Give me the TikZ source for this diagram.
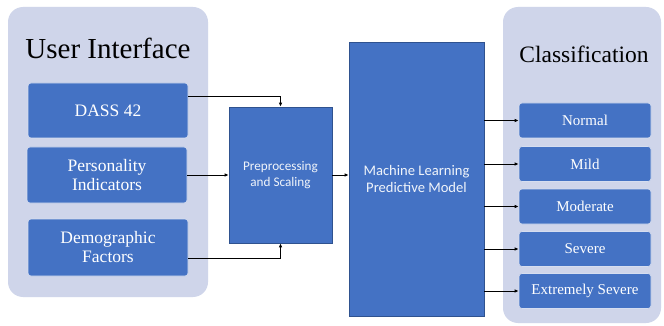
\documentclass[tikz,border=0pt]{standalone}
\usepackage{fontspec}
\setmainfont{Liberation Serif}
\newfontfamily\calib{Carlito}
\usetikzlibrary{arrows.meta}
\definecolor{panelfill}{HTML}{CFD5EA}
\definecolor{boxblue}{HTML}{4472C4}
\definecolor{boxedge}{HTML}{2F528F}
\definecolor{boxrim}{HTML}{D6DEF0}

\tikzset{
  panel/.style={fill=panelfill, rounded corners=15pt, inner sep=0pt},
  paneltitle/.style={anchor=base, inner sep=0pt, text=black},
  uibox/.style={draw=boxrim, line width=0.6pt, fill=boxblue, rounded corners=3pt,
    text=white, align=center, inner sep=0pt, minimum width=160pt,
    font=\fontsize{17.5}{19}\selectfont},
  stage/.style={draw=boxedge, line width=0.6pt, fill=boxblue, text=white,
    align=center, inner sep=0pt},
  classbox/.style={draw=boxrim, line width=0.6pt, fill=boxblue, rounded corners=3pt,
    text=white, align=center, inner sep=0pt, minimum width=132pt, minimum height=35pt,
    font=\fontsize{15}{17}\selectfont},
  conn/.style={-{Latex[length=4pt,width=3.5pt]}, line width=0.8pt, black}
}

\begin{document}
\begin{tikzpicture}[x=1pt,y=-1pt]
\useasboundingbox (0,0) rectangle (664,326);
\fill[white] (0,0) rectangle (664,326);

% background panels
\node[panel, minimum width=200pt, minimum height=290pt] (left) at (108,152) {};
\node[panel, minimum width=158pt, minimum height=316pt] (right) at (582,165) {};

\node[paneltitle, font=\fontsize{29}{32}\selectfont] (uititle) at (108,59) {User Interface};
\node[paneltitle, font=\fontsize{23.5}{26}\selectfont] (cltitle) at (584,63) {Classification};

% inputs
\node[uibox, minimum height=55pt] (dass) at (108,110.5) {DASS 42};
\node[uibox, minimum height=56pt] (pers) at (107,175) {Personality\\Indicators};
\node[uibox, minimum height=57pt] (demo) at (108,247.5) {Demographic\\Factors};

% processing stages
\node[stage, minimum width=103pt, minimum height=136pt,
  font=\calib\fontsize{13.2}{16}\selectfont, text=white!92!boxblue] (prep) at (280.5,175)
  {Preprocessing\\and Scaling};
\node[stage, minimum width=135pt, minimum height=274pt,
  font=\calib\fontsize{14.6}{17.7}\selectfont, text=white!92!boxblue] (ml) at (416.5,179)
  {Machine Learning\\Predictive Model};

% output classes
\node[classbox] (c1) at (585,120.5) {Normal};
\node[classbox] (c2) at (585,164) {Mild};
\node[classbox] (c3) at (585,206.5) {Moderate};
\node[classbox] (c4) at (585,249) {Severe};
\node[classbox] (c5) at (585,291) {Extremely Severe};

% connectors
\draw[conn] ([yshift=14.5pt]dass.east) -| (prep.north);
\draw[conn] (pers.east) -- (pers.east -| prep.west);
\draw[conn] ([yshift=-10.5pt]demo.east) -| (prep.south);
\draw[conn] (prep.east) -- (prep.east -| ml.west);
\foreach \c in {c1,c2,c3,c4,c5}
  \draw[conn] (\c.west -| ml.east) -- (\c.west);
\end{tikzpicture}
\end{document}
